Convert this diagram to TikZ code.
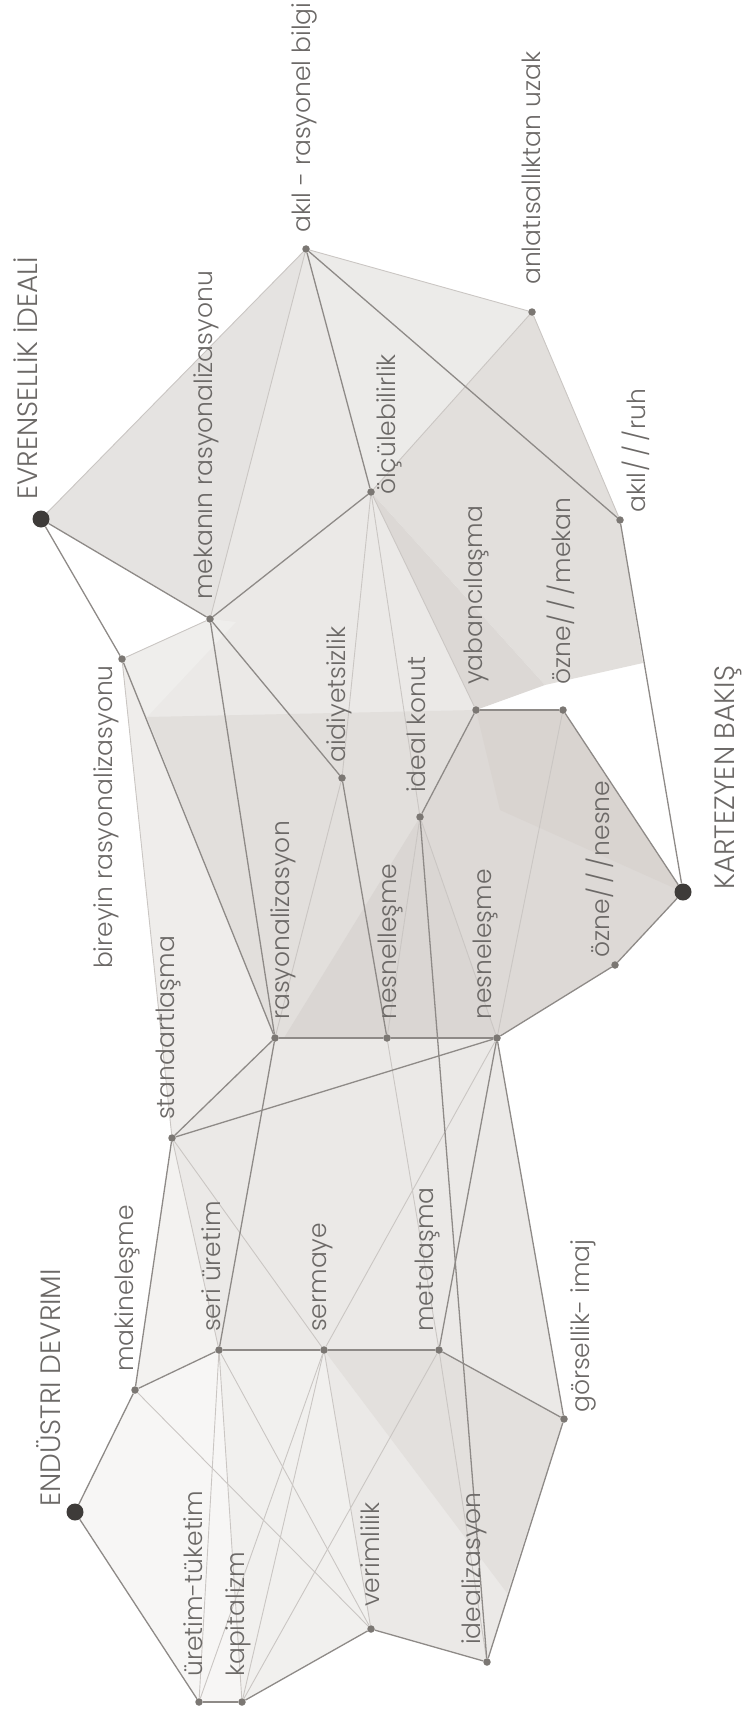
\documentclass[tikz,border=0pt]{standalone}
\usepackage{fontspec}
\setmainfont{Poppins}[UprightFont=* Light]
\definecolor{lineD}{HTML}{8E8A87}
\definecolor{lineL}{HTML}{CAC6C3}
\definecolor{dotC}{HTML}{7B7773}
\definecolor{bigC}{HTML}{3E3B39}
\definecolor{txtC}{HTML}{6C6967}
\definecolor{f0}{HTML}{E5E3E1}
\definecolor{f1}{HTML}{EAE8E6}
\definecolor{f2}{HTML}{ECEBE9}
\definecolor{f3}{HTML}{E2DFDC}
\definecolor{f4}{HTML}{DCD8D5}
\definecolor{f5}{HTML}{EBE9E7}
\definecolor{f6}{HTML}{EFEEEC}
\definecolor{f7}{HTML}{E2DFDC}
\definecolor{f8}{HTML}{EFEDEB}
\definecolor{f9}{HTML}{DDD9D6}
\definecolor{f10}{HTML}{D9D4D0}
\definecolor{f11}{HTML}{DAD6D3}
\definecolor{f12}{HTML}{EBE9E7}
\definecolor{f13}{HTML}{F3F2F0}
\definecolor{f14}{HTML}{F7F6F5}
\definecolor{f15}{HTML}{F1F0EE}
\definecolor{f16}{HTML}{EBE9E7}
\definecolor{f17}{HTML}{E3E0DD}
\pgfdeclarelayer{bg}
\pgfdeclarelayer{ln}
\pgfsetlayers{bg,ln,main}
\newcommand{\sls}{\kern1pt/\kern4pt/\kern4pt/\kern1pt}
\tikzset{
  dk/.style={draw=lineD, line width=1.3pt},
  lt/.style={draw=lineL, line width=0.9pt},
  dot/.style={circle, fill=dotC, inner sep=0pt, minimum size=7.5pt},
  bigdot/.style={circle, fill=bigC, inner sep=0pt, minimum size=17pt},
  lab/.style={rotate=90, text=txtC, inner sep=0pt, anchor=west, font=\fontsize{25}{29}\selectfont},
  caplab/.style={lab, font=\fontsize{28}{32}\selectfont},
}
\begin{document}
\begin{tikzpicture}[x=1pt,y=-1pt]
\useasboundingbox (0,0) rectangle (743,1712);
% dots
\node[bigdot] (EV) at (41,519) {};
\node[dot] (AK) at (306,249) {};
\node[dot] (AN) at (532,312) {};
\node[dot] (OL) at (371,492) {};
\node[dot] (AR) at (620,520) {};
\node[dot] (MR) at (210,619) {};
\node[dot] (BR) at (122,659) {};
\node[dot] (AI) at (342,778) {};
\node[dot] (YA) at (476,710) {};
\node[dot] (OM) at (563,710) {};
\node[dot] (IK) at (420,817) {};
\node[bigdot] (KB) at (683,892) {};
\node[dot] (ON) at (615,965) {};
\node[dot] (RA) at (275,1038) {};
\node[dot] (NL) at (387,1038) {};
\node[dot] (NS) at (497,1038) {};
\node[dot] (ST) at (172,1138) {};
\node[dot] (SU) at (219,1350) {};
\node[dot] (SE) at (324,1350) {};
\node[dot] (ME) at (439,1350) {};
\node[dot] (MK) at (135,1390) {};
\node[dot] (GI) at (564,1419) {};
\node[bigdot] (ED) at (75,1512) {};
\node[dot] (VE) at (371,1629) {};
\node[dot] (ID) at (487,1662) {};
\node[dot] (UT) at (199,1702) {};
\node[dot] (KA) at (242,1702) {};
% fills
\begin{pgfonlayer}{bg}
\fill[f0] (EV.center) -- (AK.center) -- (MR.center) -- cycle;
\fill[f1] (AK.center) -- (OL.center) -- (MR.center) -- cycle;
\fill[f2] (AK.center) -- (AN.center) -- (OL.center) -- cycle;
\fill[f3] (AN.center) -- (AR.center) -- (643,663) -- (545,685) -- (OL.center) -- cycle;
\fill[f4] (OL.center) -- (545,685) -- (YA.center) -- cycle;
\fill[f5] (BR.center) -- (MR.center) -- (OL.center) -- (YA.center) -- (IK.center) -- (NS.center) -- (RA.center) -- cycle;
\fill[f6] (BR.center) -- (MR.center) -- (236,622) -- (147,717) -- cycle;
\fill[f7] (147,717) -- (YA.center) -- (IK.center) -- (NS.center) -- (RA.center) -- cycle;
\fill[f8] (BR.center) -- (RA.center) -- (ST.center) -- cycle;
\fill[f9] (YA.center) -- (OM.center) -- (KB.center) -- (ON.center) -- (NS.center) -- (IK.center) -- cycle;
\fill[f10] (YA.center) -- (OM.center) -- (KB.center) -- (500,810) -- cycle;
\fill[f11] (IK.center) -- (279,1046) -- (287,1084) -- (297,1038) -- (NS.center) -- cycle;
\fill[f12] (ST.center) -- (RA.center) -- (NS.center) -- (GI.center) -- (ME.center) -- (SE.center) -- (SU.center) -- (MK.center) -- cycle;
\fill[f13] (ST.center) -- (SU.center) -- (MK.center) -- cycle;
\fill[f14] (ED.center) -- (MK.center) -- (SU.center) -- (KA.center) -- (UT.center) -- cycle;
\fill[f15] (SU.center) -- (SE.center) -- (VE.center) -- (KA.center) -- cycle;
\fill[f16] (SE.center) -- (ME.center) -- (GI.center) -- (ID.center) -- (VE.center) -- cycle;
\fill[f17] (SE.center) -- (ME.center) -- (GI.center) -- (507,1593) -- cycle;
\end{pgfonlayer}
% lines
\begin{pgfonlayer}{ln}
\draw[lt] (AK) -- (EV);
\draw[lt] (AK) -- (AN);
\draw[lt] (AN) -- (AR);
\draw[lt] (AN) -- (OL);
\draw[lt] (AK) -- (MR);
\draw[lt] (BR) -- (MR);
\draw[lt] (BR) -- (ST);
\draw[lt] (OL) -- (AI);
\draw[lt] (OL) -- (IK);
\draw[lt] (OL) -- (YA);
\draw[lt] (AI) -- (RA);
\draw[lt] (IK) -- (NL);
\draw[lt] (IK) -- (NS);
\draw[lt] (OM) -- (NS);
\draw[lt] (NL) -- (ME);
\draw[lt] (ME) -- (ID);
\draw[lt] (NS) -- (SE);
\draw[lt] (ST) -- (SU);
\draw[lt] (ST) -- (SE);
\draw[lt] (SU) -- (UT);
\draw[lt] (SU) -- (KA);
\draw[lt] (SU) -- (VE);
\draw[lt] (SE) -- (UT);
\draw[lt] (SE) -- (KA);
\draw[lt] (SE) -- (VE);
\draw[lt] (ME) -- (KA);
\draw[lt] (MK) -- (VE);
%
\draw[dk] (EV) -- (MR);
\draw[dk] (EV) -- (BR);
\draw[dk] (MR) -- (OL);
\draw[dk] (AK) -- (OL);
\draw[dk] (AK) -- (AR);
\draw[dk] (MR) -- (RA);
\draw[dk] (MR) -- (AI);
\draw[dk] (BR) -- (RA);
\draw[dk] (AI) -- (NL);
\draw[dk] (IK) -- (YA);
\draw[dk] (YA) -- (OM);
\draw[dk] (OM) -- (KB);
\draw[dk] (AR) -- (KB);
\draw[dk] (KB) -- (ON);
\draw[dk] (ON) -- (NS);
\draw[dk] (IK) -- (ID);
\draw[dk] (RA) -- (NL);
\draw[dk] (NL) -- (NS);
\draw[dk] (ST) -- (RA);
\draw[dk] (ST) -- (NS);
\draw[dk] (ST) -- (MK);
\draw[dk] (RA) -- (SU);
\draw[dk] (NS) -- (ME);
\draw[dk] (NS) -- (GI);
\draw[dk] (MK) -- (SU);
\draw[dk] (SU) -- (SE);
\draw[dk] (SE) -- (ME);
\draw[dk] (ME) -- (GI);
\draw[dk] (GI) -- (ID);
\draw[dk] (ID) -- (VE);
\draw[dk] (VE) -- (KA);
\draw[dk] (KA) -- (UT);
\draw[dk] (UT) -- (ED);
\draw[dk] (ED) -- (MK);
\end{pgfonlayer}
% labels
\node[caplab] (tEV) at (26,500) {EVRENSELLİK İDEALİ};
\node[lab] (tAK) at (304,233) {akıl - rasyonel bilgi};
\node[lab] (tAN) at (531,285) {anlatısallıktan uzak};
\node[lab] (tMR) at (206,600) {mekanın rasyonalizasyonu};
\node[lab] (tOL) at (389,495) {ölçülebilirlik};
\node[lab] (tAR) at (636,513) {akıl\sls ruh};
\node[lab, anchor=east] (tBR) at (106,665) {bireyin rasyonalizasyonu};
\node[lab] (tAI) at (339,763) {aidiyetsizlik};
\node[lab] (tIK) at (416,793) {ideal konut};
\node[lab] (tYA) at (476,685) {yabancılaşma};
\node[lab] (tOM) at (561,685) {özne\sls mekan};
\node[caplab] (tKB) at (728,890) {KARTEZYEN BAKIŞ};
\node[lab] (tON) at (600,958) {özne\sls nesne};
\node[lab] (tRA) at (283,1020) {rasyonalizasyon};
\node[lab] (tNL) at (390,1020) {nesnelleşme};
\node[lab] (tNS) at (485,1020) {nesneleşme};
\node[lab] (tST) at (168,1120) {standartlaşma};
\node[lab] (tMK) at (127,1372) {makineleşme};
\node[lab] (tSU) at (211,1332) {seri üretim};
\node[lab] (tSE) at (323,1332) {sermaye};
\node[lab] (tME) at (427,1332) {metalaşma};
\node[lab] (tGI) at (583,1413) {görsellik- imaj};
\node[caplab] (tED) at (49,1507) {ENDÜSTRI DEVRIMI};
\node[lab] (tUT) at (193,1677) {üretim-tüketim};
\node[lab] (tKA) at (238,1677) {kapitalizm};
\node[lab] (tVE) at (370,1607) {verimlilik};
\node[lab] (tID) at (474,1645) {idealizasyon};
\end{tikzpicture}
\end{document}
